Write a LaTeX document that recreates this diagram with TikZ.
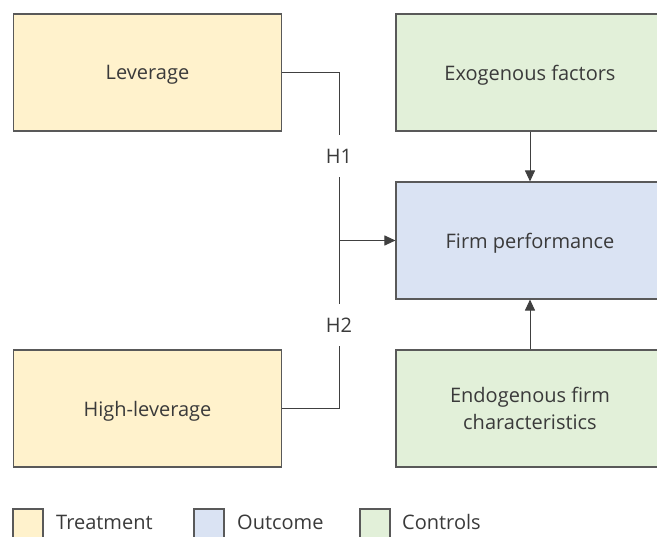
\documentclass[tikz,border=0pt]{standalone}
\usepackage{fontspec}
\setmainfont{Open Sans}
\usetikzlibrary{arrows.meta}
\definecolor{treat}{HTML}{FFF2CC}
\definecolor{outc}{HTML}{DAE3F3}
\definecolor{ctrl}{HTML}{E2F0D9}
\definecolor{edge}{HTML}{595959}
\definecolor{txt}{HTML}{3A3A3A}
\newcommand{\lowr}[1]{\raisebox{-2.5pt}[\height][\depth]{#1}}
\tikzset{
  box/.style={draw=edge, line width=1.1pt, minimum width=268pt, minimum height=117pt, inner sep=0pt, align=center, text=txt, font=\fontsize{20}{27}\selectfont},
  conn/.style={draw=black!75, line width=1pt},
  arr/.style={conn, -{Triangle[length=11pt,width=10pt]}},
  hlab/.style={text=txt, font=\fontsize{20}{23}\selectfont, minimum height=42pt, inner sep=0pt},
  legsq/.style={draw=edge, line width=1.1pt, minimum width=30pt, minimum height=30pt, inner sep=0pt},
  legtxt/.style={text=txt, font=\fontsize{20}{23}\selectfont, anchor=west, inner sep=0pt}
}
\begin{document}
\begin{tikzpicture}[x=1pt,y=-1pt]
\clip (0,0) rectangle (657,537);
\fill[white] (0,0) rectangle (657,537);
\node[box, fill=treat] (lev) at (147.5,72.5) {\lowr{Leverage}};
\node[box, fill=treat] (hlev) at (147.5,408.5) {\lowr{High-leverage}};
\node[box, fill=ctrl] (exo) at (530,72.5) {\lowr{Exogenous factors}};
\node[box, fill=outc] (firm) at (530,240.5) {\lowr{Firm performance}};
\node[box, fill=ctrl] (endo) at (530,408.5) {Endogenous firm\\characteristics};
\node[hlab] (h1) at (339,156) {H1};
\node[hlab] (h2) at (339,325) {H2};
\draw[conn] (lev.east) -| (h1.north);
\draw[conn] (h1.south) -- (h2.north);
\draw[conn] (h2.south) |- (hlev.east);
\draw[arr] (h1.south |- firm.west) -- (firm.west);
\draw[arr] (exo.south) -- (firm.north);
\draw[arr] (endo.north) -- (firm.south);
\node[legsq, fill=treat] (lt) at (28,524) {};
\node[legtxt] (ltt) at (56,522) {Treatment};
\node[legsq, fill=outc] (lo) at (209,524) {};
\node[legtxt] (lot) at (237,522) {Outcome};
\node[legsq, fill=ctrl] (lc) at (375,524) {};
\node[legtxt] (lct) at (402,522) {Controls};
\end{tikzpicture}
\end{document}
